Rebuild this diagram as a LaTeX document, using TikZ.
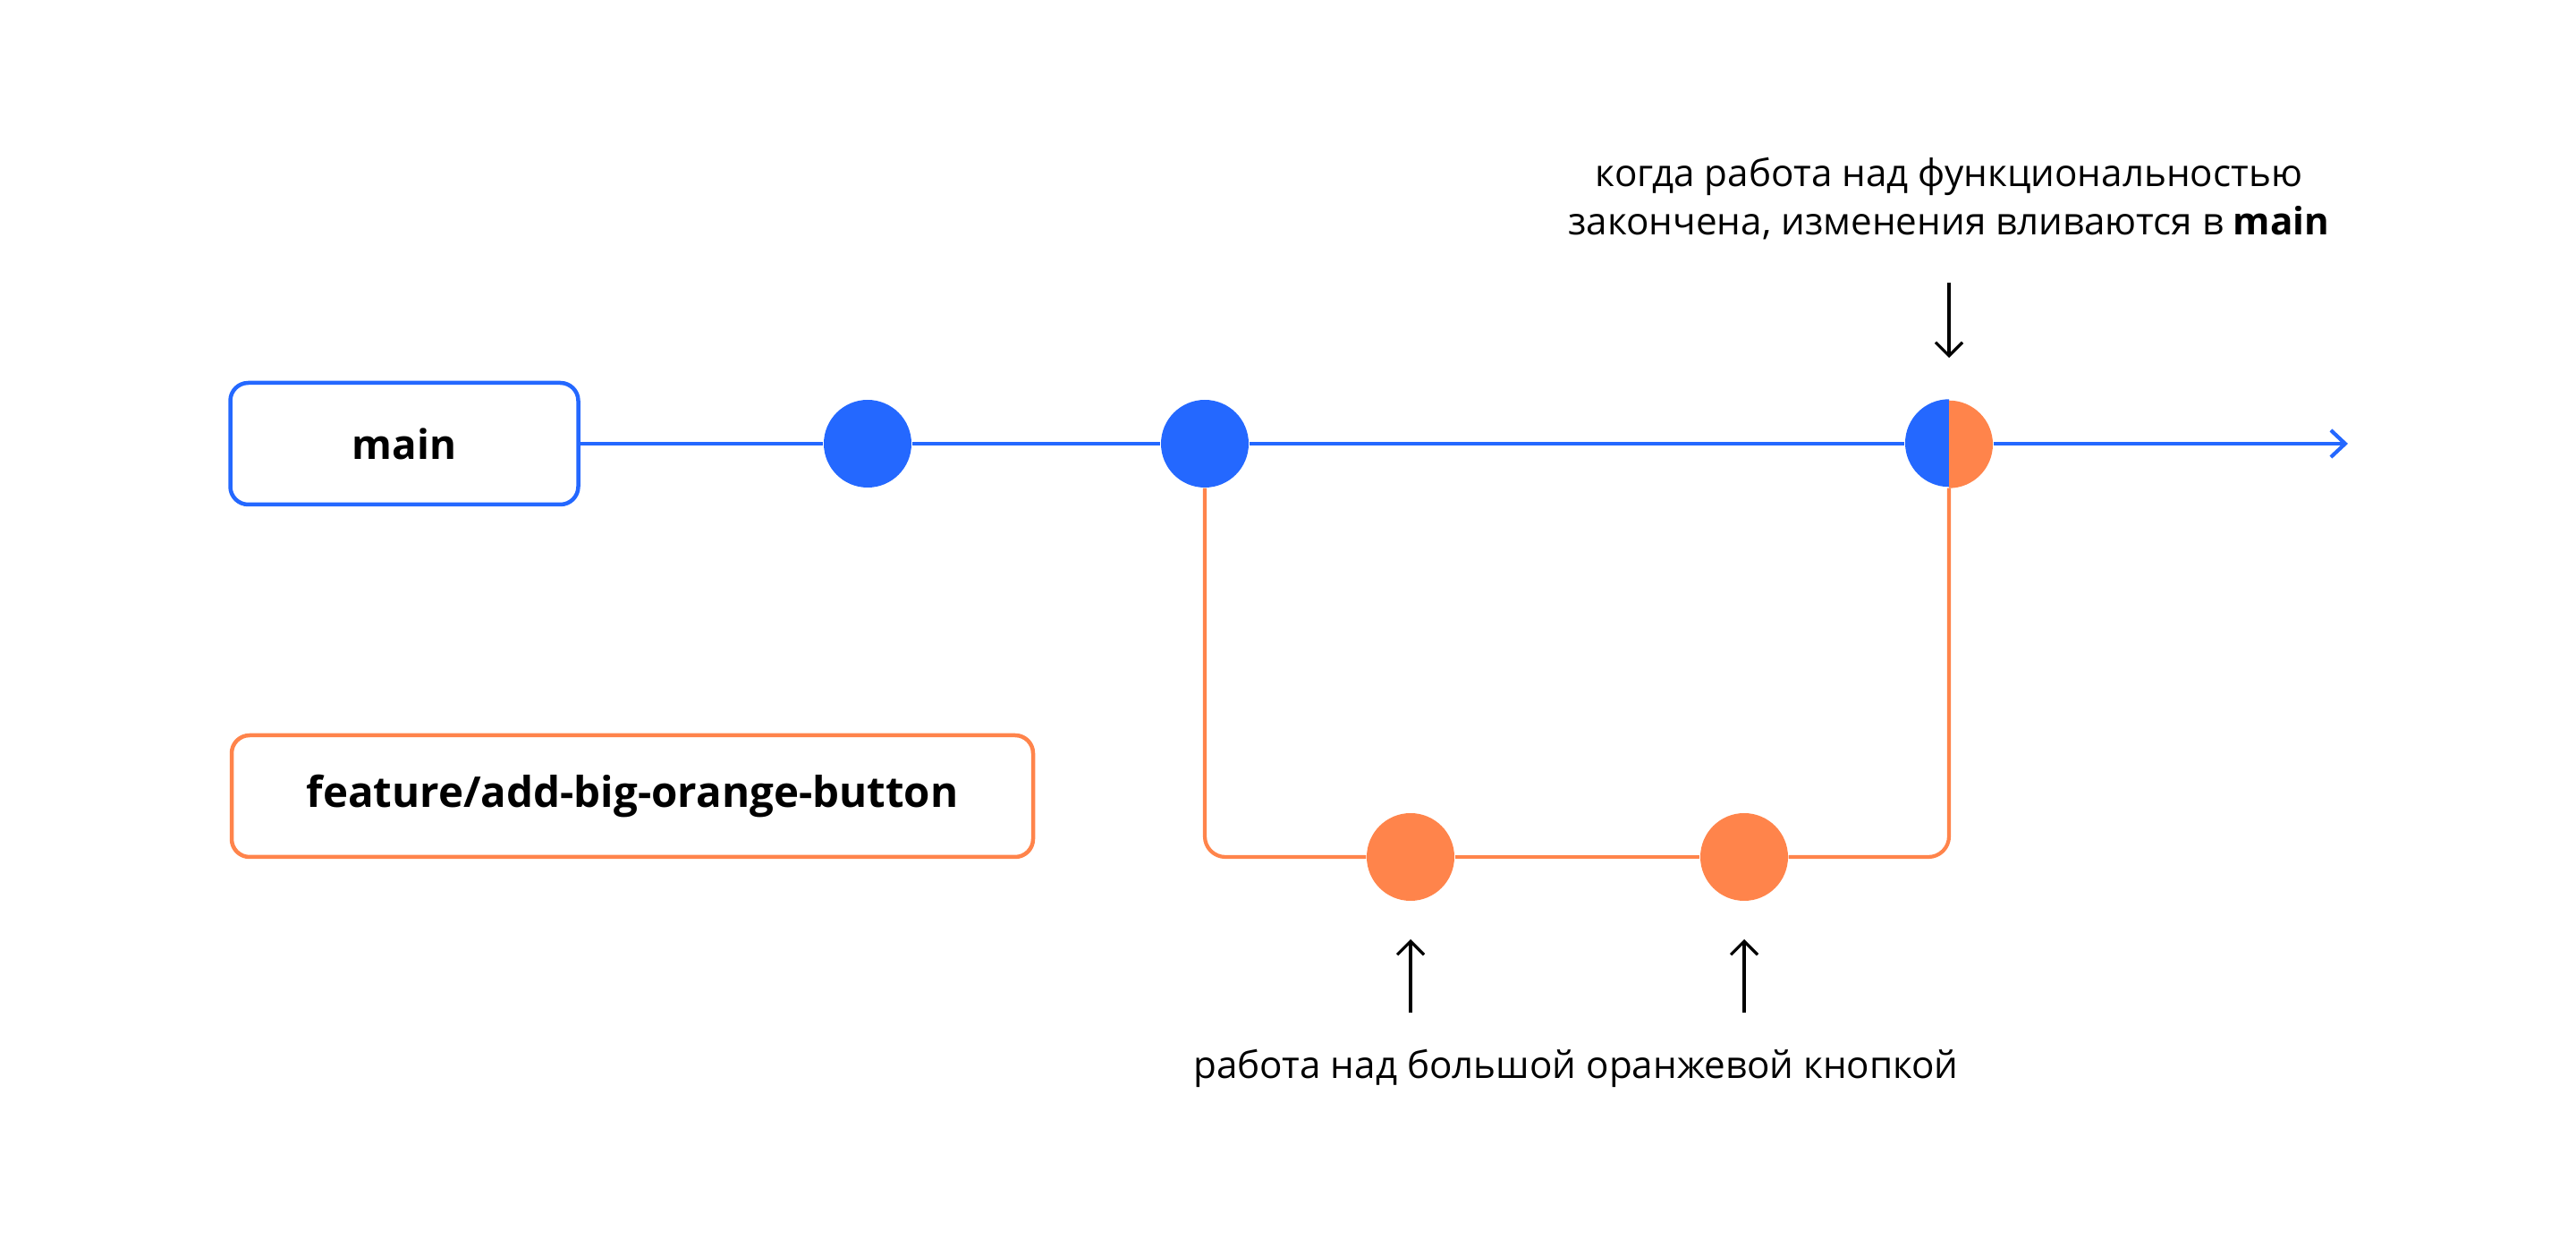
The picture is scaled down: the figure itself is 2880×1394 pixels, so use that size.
\documentclass[tikz,border=0pt]{standalone}
\usepackage{fontspec}
\setmainfont{Open Sans}
\usepackage{tikz}
\usetikzlibrary{arrows.meta,positioning,calc}
\definecolor{gitblue}{HTML}{2468FF}
\definecolor{gitorange}{HTML}{FF844B}

\begin{document}
\begin{tikzpicture}[x=0.1mm,y=-0.1mm,
    commit/.style={circle, fill=#1, minimum size=9.8mm, inner sep=0pt},
    branch/.style={draw=#1, line width=0.45mm, rounded corners=2mm, minimum height=13.6mm, font=\bfseries\fontsize{13}{15}\selectfont},
    flow/.style={draw=#1, line width=0.42mm},
    pointer/.style={draw=black, line width=0.32mm, -{Straight Barb[length=1.5mm,width=3mm]}},
    note/.style={align=center, font=\fontsize{12}{15.6}\selectfont}]
    \useasboundingbox (0,0) rectangle (2880,1394);

    % branch labels
    \node[branch=gitblue, minimum width=38.9mm] (mainbox) at (452,496) {main};
    \node[branch=gitorange, minimum width=89.6mm, font=\bfseries\fontsize{13.5}{15}\selectfont] (featbox) at (707,890) {feature/add-big-orange-button};

    % commits
    \node[commit=gitblue] (c1) at (970,496) {};
    \node[commit=gitblue] (c2) at (1347,496) {};
    \node[commit=gitorange] (f1) at (1577,958) {};
    \node[commit=gitorange] (f2) at (1950,958) {};
    \node[circle, minimum size=9.8mm, inner sep=0pt] (m) at (2179,496) {};
    \fill[gitblue] (m.north) arc[start angle=90, end angle=270, radius=4.9mm] -- cycle;
    \fill[gitorange] (m.south) arc[start angle=-90, end angle=90, radius=4.9mm] -- cycle;

    % history lines
    \coordinate (mainend) at (2625,496);
    \draw[flow=gitblue] (mainbox) -- (c1) -- (c2) -- (m);
    \draw[flow=gitblue, -{Straight Barb[length=1.6mm,width=3mm]}] (m) -- (mainend);
    \draw[flow=gitorange, rounded corners=2.3mm] (c2) |- (f1);
    \draw[flow=gitorange] (f1) -- (f2);
    \draw[flow=gitorange, rounded corners=2.3mm] (f2) -| (m);

    % notes
    \coordinate (mtop) at ($(m)+(0,-180)$);
    \coordinate (mtip) at ($(m)+(0,-96)$);
    \draw[pointer] (mtop) -- (mtip);
    \node[note] (mergenote) at (2179,222) {когда работа над функциональностью\\закончена, изменения вливаются в \textbf{main}};

    \foreach \c in {f1,f2}{
        \coordinate (\c low) at ($(\c)+(0,174)$);
        \coordinate (\c tip) at ($(\c)+(0,92)$);
        \draw[pointer] (\c low) -- (\c tip);
    }
    \node[note] (worknote) at (1762,1194) {работа над большой оранжевой кнопкой};
\end{tikzpicture}
\end{document}
